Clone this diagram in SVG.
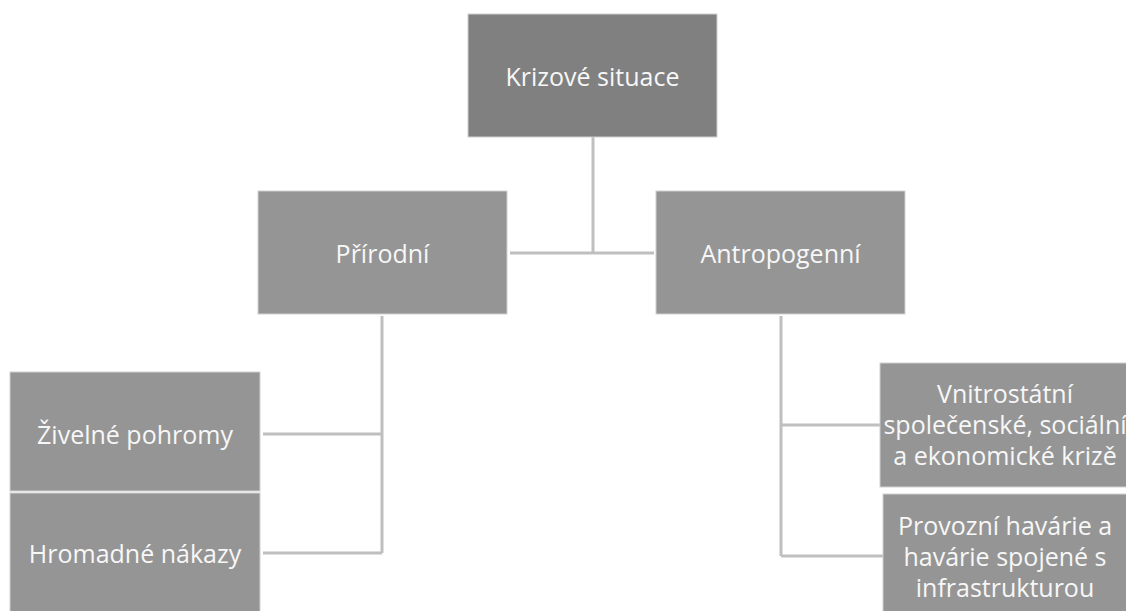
<svg xmlns="http://www.w3.org/2000/svg" width="1126" height="611" viewBox="0 0 1126 611">
<style>
.box{fill:#959595;stroke:#d0d0d0;stroke-width:1}
.top{fill:#808080}
.t{font-family:"Open Sans","Liberation Sans",sans-serif;font-size:25px;fill:#f7f7f7;text-anchor:middle;dominant-baseline:central}
.c{stroke:#bfbfbf;stroke-width:3;fill:none}
</style>
<rect width="1126" height="611" fill="#ffffff"/>
<g id="connectors">
<path class="c" d="M593,137 V253 M510,253 H654"/>
<path class="c" d="M382,316 V553 M263,434 H382 M263,553 H382"/>
<path class="c" d="M781,316 V556 M781,425 H880 M781,556 H883"/>
</g>
<g id="n-krizove"><rect class="box top" x="468" y="14" width="249" height="123"/><text class="t" x="592.5" y="76">Krizové situace</text></g>
<g id="n-prirodni"><rect class="box" x="258" y="191" width="249" height="123"/><text class="t" x="382.5" y="253">Přírodní</text></g>
<g id="n-antropogenni"><rect class="box" x="656" y="191" width="249" height="123"/><text class="t" x="780.5" y="253">Antropogenní</text></g>
<g id="n-zivelne"><rect class="box" x="10" y="372" width="250" height="119"/><text class="t" x="135" y="434">Živelné pohromy</text></g>
<g id="n-hromadne"><rect class="box" x="10" y="493" width="250" height="122"/><text class="t" x="135" y="553">Hromadné nákazy</text></g>
<g id="n-vnitrostatni"><rect class="box" x="880" y="363" width="252" height="124"/>
<text class="t" x="1005" y="393">Vnitrostátní</text><text class="t" x="1005" y="424">společenské, sociální</text><text class="t" x="1005" y="455">a ekonomické krizě</text></g>
<g id="n-provozni"><rect class="box" x="883" y="494" width="250" height="122"/>
<text class="t" x="1005" y="525">Provozní havárie a</text><text class="t" x="1005" y="556">havárie spojené s</text><text class="t" x="1005" y="587">infrastrukturou</text></g>
</svg>
